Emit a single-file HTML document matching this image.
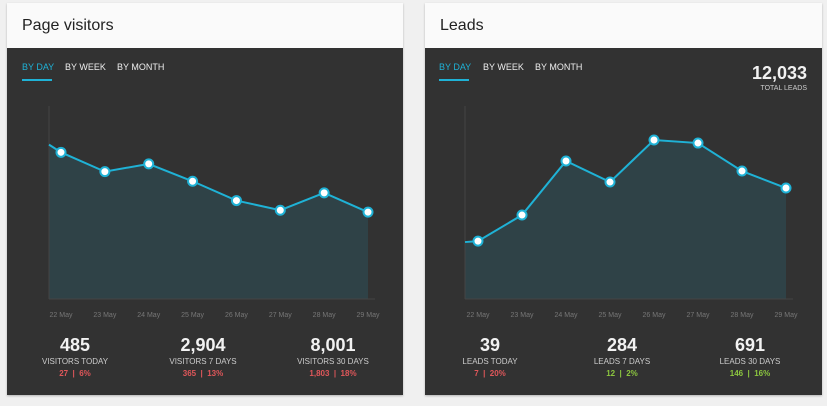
<!DOCTYPE html>
<html><head><meta charset="utf-8"><style>
body{margin:0;width:827px;height:406px;background:#f0f0f0;font-family:"Liberation Sans",sans-serif;position:relative;overflow:hidden}
.card{position:absolute;top:3px;height:392px;box-shadow:0 1px 2px rgba(0,0,0,.25)}
.hdr{position:absolute;left:0;right:0;top:0;height:45px;background:#fafafa}
.hdr span{position:absolute;left:15px;top:14px;font-size:16px;color:#222}
.body{position:absolute;left:0;right:0;top:45px;bottom:0;background:#323232}
.tab{position:absolute;top:14px;font-size:9px;color:#eee}
.tab.on{color:#1fb2d6}
.uline{position:absolute;left:15px;top:31px;width:30px;height:2px;background:#1fb2d6}
.stat{position:absolute;width:130px;margin-left:-65px;text-align:center}
.stat .n{font-size:18px;font-weight:bold;color:#f2f2f2;position:absolute;top:0;left:0;right:0}
.stat .l{font-size:8px;color:#ccc;position:absolute;top:22px;left:0;right:0}
.stat .d{font-size:8px;font-weight:bold;position:absolute;top:34px;left:0;right:0}
.red{color:#e0575a}.grn{color:#8cc63f}
svg{position:absolute;left:0;top:0}
</style></head><body>
<div class="card" style="left:7px;width:396px">
 <div class="hdr"><span>Page visitors</span></div>
 <div class="body">
  <span class="tab on" style="left:15px">BY DAY</span>
  <span class="tab" style="left:58px">BY WEEK</span>
  <span class="tab" style="left:110px">BY MONTH</span>
  <div class="uline"></div>
  <div class="stat" style="left:68px;top:287px"><div class="n">485</div><div class="l">VISITORS TODAY</div><div class="d red">27 &nbsp;|&nbsp; 6%</div></div>
  <div class="stat" style="left:196px;top:287px"><div class="n">2,904</div><div class="l">VISITORS 7 DAYS</div><div class="d red">365 &nbsp;|&nbsp; 13%</div></div>
  <div class="stat" style="left:326px;top:287px"><div class="n">8,001</div><div class="l">VISITORS 30 DAYS</div><div class="d red">1,803 &nbsp;|&nbsp; 18%</div></div>
 </div>
</div>
<div class="card" style="left:425px;width:397px">
 <div class="hdr"><span>Leads</span></div>
 <div class="body">
  <span class="tab on" style="left:14px">BY DAY</span>
  <span class="tab" style="left:58px">BY WEEK</span>
  <span class="tab" style="left:110px">BY MONTH</span>
  <div class="uline" style="left:14px"></div>
  <div style="position:absolute;right:15px;top:15px;font-size:18px;font-weight:bold;color:#f2f2f2">12,033</div>
  <div style="position:absolute;right:15px;top:37px;font-size:7px;color:#ccc">TOTAL LEADS</div>
  <div class="stat" style="left:65px;top:287px"><div class="n">39</div><div class="l">LEADS TODAY</div><div class="d red">7 &nbsp;|&nbsp; 20%</div></div>
  <div class="stat" style="left:197px;top:287px"><div class="n">284</div><div class="l">LEADS 7 DAYS</div><div class="d grn">12 &nbsp;|&nbsp; 2%</div></div>
  <div class="stat" style="left:325px;top:287px"><div class="n">691</div><div class="l">LEADS 30 DAYS</div><div class="d grn">146 &nbsp;|&nbsp; 16%</div></div>
 </div>
</div>
<svg id="chart" width="827" height="406"></svg>
<script>
const categories=["22 May","23 May","24 May","25 May","26 May","27 May","28 May","29 May"];
const visitorsValues=[76,66,70,61,51,46,55,45];
const visitorsStart=80;
const leadsValues=[30,43.5,71.5,60.6,82.4,80.8,66.3,57.5];
const leadsStart=29.5;
const yMax=100;
const NS="http://www.w3.org/2000/svg";
const svg=document.getElementById('chart');
function mk(t,a){const e=document.createElementNS(NS,t);for(const k in a)e.setAttribute(k,a[k]);svg.appendChild(e);return e;}
function draw(ax,x0,step,vals,start,name){
 const top=106,base=299;
 const y=v=>base-(v/yMax)*(base-top);
 const x=i=>x0+i*step;
 const lastX=x(vals.length-1);
 let d=`M${ax},${y(start)} `+vals.map((v,i)=>`L${x(i)},${y(v)}`).join(' ');
 const area=mk('path',{d:d+` L${lastX},${base} L${ax},${base} Z`,fill:'#2f4247'});
 
 
 const ya=mk('line',{x1:ax,y1:top,x2:ax,y2:base,stroke:'#444','stroke-width':1});
 
 
 const xa=mk('line',{x1:ax,y1:base,x2:lastX+7,y2:base,stroke:'#444','stroke-width':1});
 
 
 const ln=mk('path',{d:d,fill:'none',stroke:'#1fb2d6','stroke-width':2});
 
 
 vals.forEach((v,i)=>{
  const c=mk('circle',{cx:x(i),cy:y(v),r:4.5,fill:'#fff',stroke:'#1fb2d6','stroke-width':2});
  
  
  const t=mk('text',{x:x(i),y:317,'text-anchor':'middle','font-size':7,fill:'#777','font-family':'Liberation Sans, sans-serif'});
  t.textContent=categories[i];
  
  
 });
}
draw(49,61,43.86,visitorsValues,visitorsStart,'visitors');
draw(465,478,44,leadsValues,leadsStart,'leads');
</script>
</body></html>
